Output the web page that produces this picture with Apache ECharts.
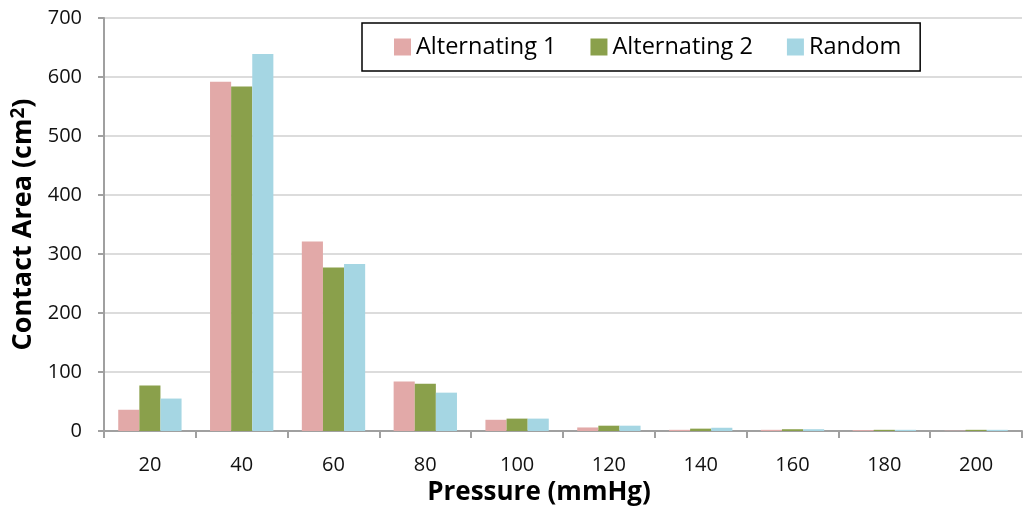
<!DOCTYPE html>
<html><head><meta charset="utf-8">
<script src="https://cdn.jsdelivr.net/npm/echarts@6/dist/echarts.min.js"></script>
<style>html,body{margin:0;padding:0;background:#fff}#c{width:1026px;height:508px}</style>
</head><body><div id="c"></div>
<script>
const categories = ['20','40','60','80','100','120','140','160','180','200'];
const alternating1 = [36, 592, 321, 84, 19, 6, 2, 2, 1.5, 0.5];
const alternating2 = [77, 584, 277, 80, 21, 9, 4, 3, 2, 2];
const random = [55, 639, 283, 65, 21, 9, 5.5, 3, 2, 2];
const seriesNames = ['Alternating 1', 'Alternating 2', 'Random'];
const colors = ['#e2a9a8', '#8aa04b', '#a5d6e3'];
const font = '"Open Sans", sans-serif';

const chart = echarts.init(document.getElementById('c'));
chart.setOption({
  animation: false,
  grid: {left: 104, right: 4, top: 18, bottom: 77, outerBoundsMode: 'none', containLabel: false},
  legend: {
    top: 23, left: 362,
    padding: [11, 19, 11, 32],
    borderColor: '#000', borderWidth: 1.5,
    itemWidth: 17, itemHeight: 17, itemGap: 34,
    icon: 'rect',
    textStyle: {fontFamily: font, fontSize: 23.5, color: '#000', lineHeight: 26},
    data: seriesNames
  },
  xAxis: {
    type: 'category', data: categories,
    name: 'Pressure (mmHg)', nameLocation: 'middle', nameGap: 47,
    nameTextStyle: {fontFamily: font, fontSize: 26, fontWeight: 'bold', color: '#000', padding: [0, 48, 0, 0]},
    axisLine: {lineStyle: {color: '#a0a0a0', width: 2}},
    axisTick: {show: true, length: 7, lineStyle: {color: '#a0a0a0', width: 2}},
    axisLabel: {fontFamily: font, fontSize: 20, color: '#111', margin: 24}
  },
  yAxis: {
    type: 'value', min: 0, max: 700, interval: 100,
    name: 'Contact Area (cm{sup|2})', nameLocation: 'middle', nameGap: 66,
    nameTextStyle: {fontFamily: font, fontSize: 27, fontWeight: 'bold', color: '#000',
      rich: {sup: {fontFamily: font, fontSize: 19, fontWeight: 'bold', color: '#000', verticalAlign: 'top', padding: [0, 0, 10, 0]}}},
    axisLine: {show: true, lineStyle: {color: '#a0a0a0', width: 2}},
    axisTick: {show: true, length: 6, lineStyle: {color: '#a0a0a0', width: 2}},
    axisLabel: {fontFamily: font, fontSize: 20, color: '#111', margin: 22},
    splitLine: {lineStyle: {color: '#dcdcdc', width: 2}}
  },
  series: [
    {name: seriesNames[0], type: 'bar', data: alternating1, itemStyle: {color: colors[0]}, barGap: '0%', barCategoryGap: '31%'},
    {name: seriesNames[1], type: 'bar', data: alternating2, itemStyle: {color: colors[1]}, barGap: '0%', barCategoryGap: '31%'},
    {name: seriesNames[2], type: 'bar', data: random, itemStyle: {color: colors[2]}, barGap: '0%', barCategoryGap: '31%'}
  ]
});
</script></body></html>
